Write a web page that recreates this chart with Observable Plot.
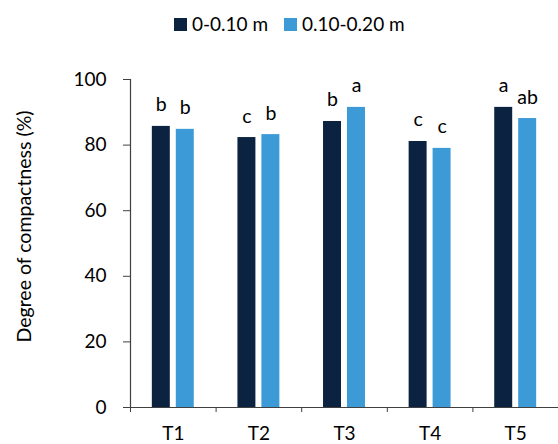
<!DOCTYPE html>
<html><head><meta charset="utf-8">
<script src="https://cdn.jsdelivr.net/npm/d3@7"></script>
<script src="https://cdn.jsdelivr.net/npm/@observablehq/plot@0.6"></script>
<style>
body{margin:0;background:#fff;font-family:Lato,sans-serif;}
#legend{position:relative;height:45px;width:558px;}
.item{position:absolute;top:14px;height:20px;line-height:20px;font-size:19px;color:#000;display:flex;align-items:center;white-space:nowrap;}
.sw{width:13px;height:13px;margin-right:5px;}
svg{display:block;}
</style></head><body>
<div id="legend"></div>
<div id="chart"></div>
<script>
const categories = ["T1", "T2", "T3", "T4", "T5"];
const seriesNames = ["0-0.10 m", "0.10-0.20 m"];
const depth1 = [85.7, 82.3, 87.2, 81.1, 91.5];
const depth2 = [84.8, 83.2, 91.5, 79.0, 88.1];
const letters1 = ["b", "c", "b", "c", "a"];
const letters2 = ["b", "b", "a", "c", "ab"];
const yTicks = [0, 20, 40, 60, 80, 100];
const yTitle = "Degree of compactness (%)";
const colors = ["#0b2341", "#3c9ad7"];

// legend
const legendLeft = [174, 284];
const legend = document.getElementById("legend");
seriesNames.forEach((name, s) => {
  const item = document.createElement("div");
  item.className = "item";
  item.style.left = legendLeft[s] + "px";
  const sw = document.createElement("span");
  sw.className = "sw";
  sw.style.background = colors[s];
  item.appendChild(sw);
  item.appendChild(document.createTextNode(name));
  legend.appendChild(item);
});

const rows = [];
categories.forEach((c, i) => {
  rows.push({cat: c, i, s: 0, series: seriesNames[0], value: depth1[i], letter: letters1[i]});
  rows.push({cat: c, i, s: 1, series: seriesNames[1], value: depth2[i], letter: letters2[i]});
});

const gap = 0.035, bw = 0.21;
const x1 = d => d.i + 0.5 + (d.s === 0 ? -(gap + bw) : gap);
const x2 = d => x1(d) + bw;
const xc = d => x1(d) + bw / 2;
const axisColor = "#404040";

const plot = Plot.plot({
  width: 558,
  height: 399,
  marginTop: 34,
  marginBottom: 37,
  marginLeft: 130,
  marginRight: 0,
  style: {fontFamily: "Lato, sans-serif", fontSize: "19px", color: "#000", background: "#fff"},
  x: {type: "linear", domain: [0, categories.length]},
  y: {domain: [0, 100]},
  color: {domain: seriesNames, range: colors},
  marks: [
    Plot.rectY(rows, {x1, x2, y1: 0, y2: "value", fill: "series"}),
    Plot.text(rows, {x: xc, y: "value", text: "letter", dy: -15, lineAnchor: "bottom", fontSize: 19.5, fill: "#000"}),
    Plot.ruleX([0], {stroke: axisColor, strokeWidth: 1.2}),
    Plot.ruleY([0], {stroke: axisColor, strokeWidth: 1.2}),
    Plot.axisY({ticks: yTicks, tickSize: 7, tickPadding: 17, label: null, stroke: axisColor}),
    Plot.axisX({ticks: d3.range(categories.length + 1), tickSize: 5, tickFormat: () => "", label: null, stroke: axisColor}),
    Plot.axisX({ticks: categories.map((_, i) => i + 0.5), tickSize: 0, tickPadding: 19, tickFormat: v => categories[Math.floor(v)], label: null}),
    Plot.text([yTitle], {frameAnchor: "left", rotate: -90, dx: -106, dy: -17, textAnchor: "middle", fontSize: 19.5, fill: "#000"})
  ]
});
document.getElementById("chart").appendChild(plot);
</script>
</body></html>
